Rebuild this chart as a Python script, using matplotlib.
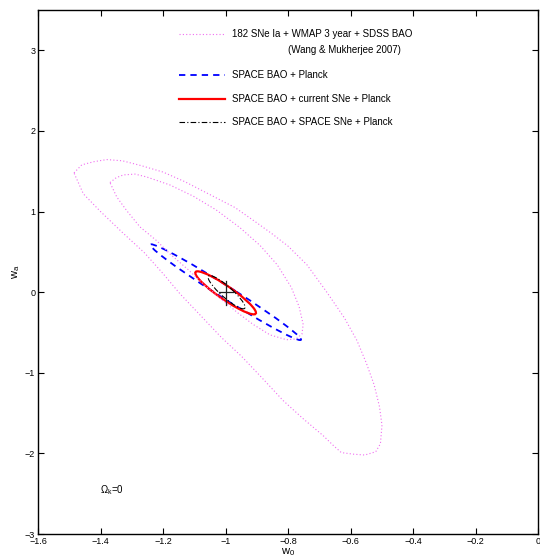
import numpy as np
import matplotlib
matplotlib.use("Agg")
import matplotlib.pyplot as plt
from matplotlib.patches import Ellipse
from matplotlib.ticker import FuncFormatter, MultipleLocator

plt.rcParams["font.family"] = ["Liberation Sans", "DejaVu Sans"]
plt.rcParams["mathtext.default"] = "regular"

# 182 SNe Ia + WMAP3 + SDSS BAO contours
outer_w0 = [-1.485, -1.46, -1.42, -1.38, -1.33, -1.27, -1.20, -1.13, -1.06, -0.97,
            -0.90, -0.85, -0.80, -0.74, -0.68, -0.62, -0.58, -0.55, -0.525, -0.508,
            -0.50, -0.505, -0.52, -0.555, -0.59, -0.63, -0.656, -0.688, -0.752, -0.816,
            -0.882, -0.948, -1.014, -1.08, -1.146, -1.20, -1.26, -1.33, -1.40, -1.455, -1.485]
outer_wa = [1.48, 1.58, 1.62, 1.645, 1.63, 1.57, 1.49, 1.37, 1.23, 1.05,
            0.86, 0.72, 0.57, 0.34, 0.02, -0.32, -0.60, -0.88, -1.15, -1.42,
            -1.65, -1.88, -1.98, -2.02, -2.01, -1.99, -1.90, -1.78, -1.57, -1.345,
            -1.07, -0.80, -0.56, -0.29, -0.02, 0.23, 0.49, 0.74, 1.00, 1.22, 1.48]

inner_w0 = [-1.370, -1.35, -1.327, -1.29, -1.253, -1.178, -1.103, -1.03, -0.954, -0.89,
            -0.835, -0.79, -0.765, -0.752, -0.756, -0.775, -0.805, -0.858, -0.912, -0.96,
            -1.01, -1.065, -1.12, -1.178, -1.221, -1.274, -1.316, -1.348, -1.370]
inner_wa = [1.36, 1.42, 1.455, 1.465, 1.43, 1.33, 1.19, 1.02, 0.80, 0.58,
            0.34, 0.06, -0.18, -0.40, -0.52, -0.58, -0.59, -0.53, -0.40, -0.26,
            -0.10, 0.08, 0.28, 0.475, 0.64, 0.81, 1.01, 1.18, 1.36]

# forecast ellipses: center, sigma(w0), sigma(wa), correlation
ell_names = ["SPACE BAO + Planck", "SPACE BAO + current SNe + Planck",
             "SPACE BAO + SPACE SNe + Planck"]
ell_center = [(-1.0, 0.0), (-1.0, -0.008), (-0.997, 0.0)]
ell_sig_w0 = [0.159, 0.0640, 0.039]
ell_sig_wa = [0.392, 0.176, 0.136]
ell_rho = [-0.988, -0.926, -0.90]

fid_w0, fid_wa = -1.0, 0.0
cross_w0 = [-1.02, -0.975]
cross_wa = [0.14, -0.155]

fig = plt.figure(figsize=(5.4, 5.59), dpi=100)
ax = fig.add_axes([0.0704, 0.0447, 0.9265, 0.9373])

mag = "#f06cf0"
ax.plot(outer_w0, outer_wa, color=mag, lw=0.8, ls=(0, (1, 2)))
ax.plot(inner_w0, inner_wa, color=mag, lw=0.8, ls=(0, (1, 2)))

styles = [dict(edgecolor="#0000ff", lw=1.3, ls=(0, (3.5, 2.8))),
          dict(edgecolor="#ff0000", lw=1.6, ls="-"),
          dict(edgecolor="black", lw=0.8, ls=(0, (5, 2, 1, 2)))]
k = np.sqrt(2.3)
for c, sx, sy, r, st in zip(ell_center, ell_sig_w0, ell_sig_wa, ell_rho, styles):
    cov = np.array([[sx * sx, r * sx * sy], [r * sx * sy, sy * sy]])
    vals, vecs = np.linalg.eigh(cov)
    ang = np.degrees(np.arctan2(vecs[1, 1], vecs[0, 1]))
    e = Ellipse(c, 2 * k * np.sqrt(vals[1]), 2 * k * np.sqrt(vals[0]), angle=ang,
                facecolor="none", **st)
    ax.add_patch(e)

# fiducial cross
ax.plot(cross_w0, [fid_wa, fid_wa], color="#222222", lw=0.9)
ax.plot([fid_w0, fid_w0], cross_wa, color="#222222", lw=0.9)

# legend drawn by hand, MATLAB style
lx0, lx1, tx = 0.281, 0.373, 0.388
rows = [0.954, 0.876, 0.831, 0.786]
ax.plot([lx0, lx1], [rows[0]] * 2, transform=ax.transAxes, color=mag, lw=0.8,
        ls=(0, (1, 2)))
ax.text(tx, rows[0], "182 SNe Ia + WMAP 3 year + SDSS BAO", transform=ax.transAxes,
        fontsize=7, va="center")
ax.text(0.4997, 0.924, "(Wang & Mukherjee 2007)", transform=ax.transAxes,
        fontsize=7, va="center")
leg_ls = ["#0000ff", "#ff0000", "black"]
for y, name, st, col in zip(rows[1:], ell_names, styles, leg_ls):
    ax.plot([lx0, lx1], [y, y], transform=ax.transAxes, color=col, lw=st["lw"],
            ls=st["ls"])
    ax.text(tx, y, name, transform=ax.transAxes, fontsize=7, va="center")

ax.text(-1.402, -2.46, r"$\Omega_k$=0", fontsize=7, va="center")

ax.set_xlim(-1.6, 0)
ax.set_ylim(-3, 3.5)
ax.xaxis.set_major_locator(MultipleLocator(0.2))
ax.set_yticks([-3, -2, -1, 0, 1, 2, 3])


def fmt(v, pos):
    if abs(v) < 1e-9:
        return "0"
    return ("%g" % v).replace("-", "\u2212")


ax.xaxis.set_major_formatter(FuncFormatter(fmt))
ax.yaxis.set_major_formatter(FuncFormatter(fmt))
ax.tick_params(direction="in", top=True, right=True, length=4, width=0.8,
               labelsize=6.5, pad=2)
for s in ax.spines.values():
    s.set_linewidth(1.0)

ax.set_xlabel(r"w$_0$", fontsize=8, labelpad=0)
ax.set_ylabel(r"w$_a$", fontsize=8, labelpad=2)

fig.savefig("out.png", dpi=100)
